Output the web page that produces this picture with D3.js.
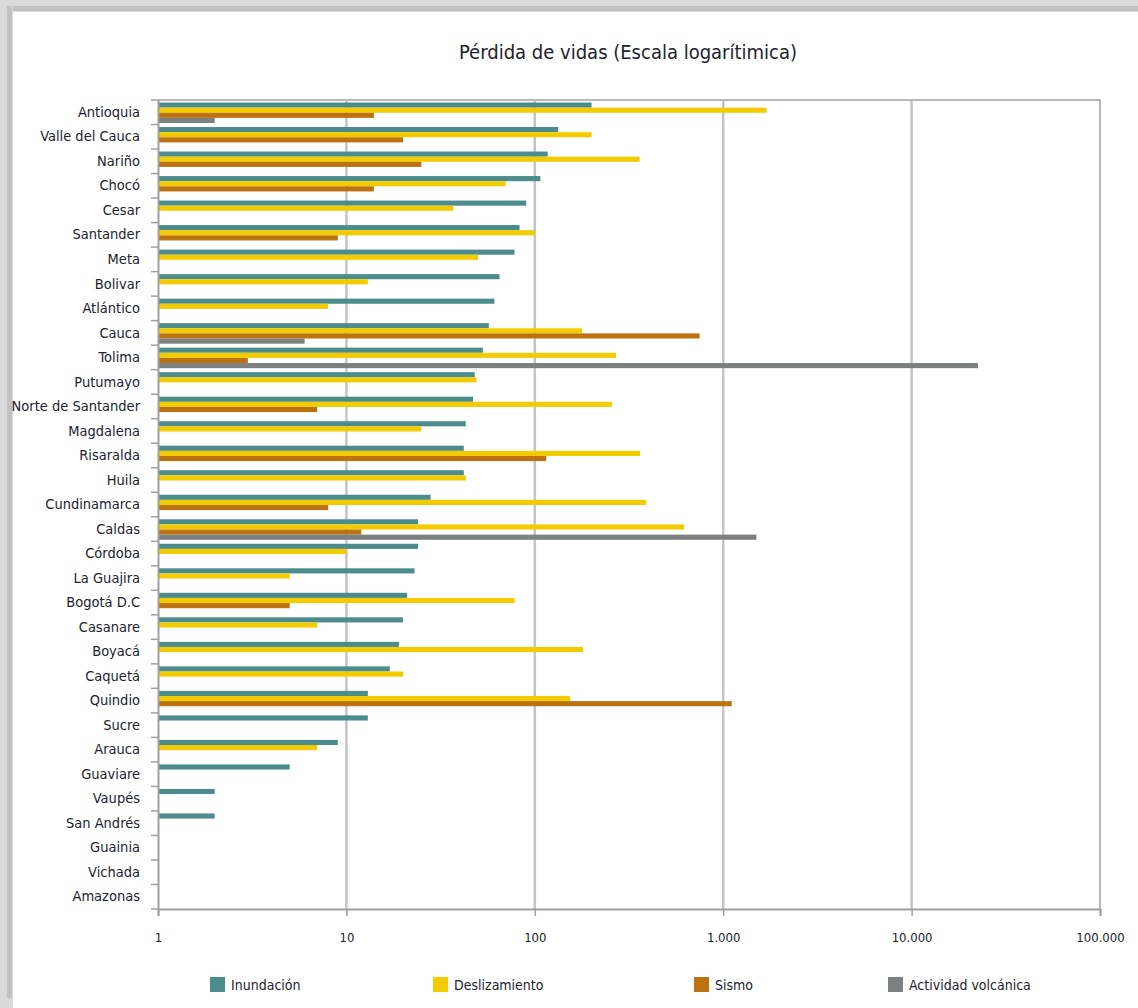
<!DOCTYPE html>
<html>
<head>
<meta charset="utf-8">
<script src="https://cdn.jsdelivr.net/npm/d3@7"></script>
<style>
  body { margin: 0; background: #fff; }
  svg text { font-family: "Liberation Sans Narrow", "DejaVu Sans Condensed", sans-serif; fill: #22222c; }
</style>
</head>
<body>
<svg id="chart" width="1138" height="1008"></svg>
<script>
// departamentos, de arriba a abajo
var categories = ["Antioquia", "Valle del Cauca", "Nariño", "Chocó", "Cesar", "Santander", "Meta",
  "Bolivar", "Atlántico", "Cauca", "Tolima", "Putumayo", "Norte de Santander", "Magdalena",
  "Risaralda", "Huila", "Cundinamarca", "Caldas", "Córdoba", "La Guajira", "Bogotá D.C",
  "Casanare", "Boyacá", "Caquetá", "Quindio", "Sucre", "Arauca", "Guaviare", "Vaupés",
  "San Andrés", "Guainia", "Vichada", "Amazonas"];

var inundacion    = [200, 133, 117, 107, 90, 83, 78, 65, 61, 57, 53, 48, 47, 43, 42, 42, 28, 24, 24, 23, 21, 20, 19, 17, 13, 13, 9, 5, 2, 2, 0, 0, 0];
var deslizamiento = [1700, 200, 360, 70, 37, 100, 50, 13, 8, 178, 270, 49, 257, 25, 362, 43, 390, 620, 10, 5, 78, 7, 180, 20, 154, 0, 7, 0, 0, 0, 0, 0, 0];
var sismo         = [14, 20, 25, 14, 0, 9, 0, 0, 0, 750, 3, 0, 7, 0, 115, 0, 8, 12, 0, 0, 5, 0, 0, 0, 1110, 0, 0, 0, 0, 0, 0, 0, 0];
var volcanica     = [2, 0, 0, 0, 0, 0, 0, 0, 0, 6, 22500, 0, 0, 0, 0, 0, 0, 1500, 0, 0, 0, 0, 0, 0, 0, 0, 0, 0, 0, 0, 0, 0, 0];

var seriesNames = ["Inundación", "Deslizamiento", "Sismo", "Actividad volcánica"];
var seriesColors = ["#4d8c8c", "#f2cc00", "#bd7211", "#7d8080"];
var xTicks = [1, 10, 100, 1000, 10000, 100000];

var seriesValues = [inundacion, deslizamiento, sismo, volcanica];

var svg = d3.select("#chart");

// marco con sombra
svg.append("rect").attr("x", 0).attr("y", 0).attr("width", 1138).attr("height", 12).attr("fill", "#dadada");
svg.append("rect").attr("x", 0).attr("y", 6).attr("width", 1138).attr("height", 5).attr("fill", "#c2c2c2");
svg.append("rect").attr("x", 0).attr("y", 0).attr("width", 13).attr("height", 1008).attr("fill", "#dadada");
svg.append("rect").attr("x", 7).attr("y", 6).attr("width", 5).attr("height", 992).attr("fill", "#c2c2c2");

var pLeft = 158, pRight = 1100, pTop = 100, pBottom = 909;

var x = d3.scaleLog().domain([1, 100000]).range([pLeft, pRight]);
var y0 = d3.scaleBand().domain(categories).range([pTop, pBottom]);
var y1 = d3.scaleBand().domain(seriesNames).range([2.5, y0.bandwidth() - 1.5]);

svg.append("text")
  .attr("x", 628).attr("y", 59)
  .attr("text-anchor", "middle")
  .style("font-size", "20px")
  .text("Pérdida de vidas (Escala logarítimica)");

// rejilla
svg.append("g").selectAll("line")
  .data(xTicks.slice(1, -1))
  .join("line")
  .attr("x1", d => x(d)).attr("x2", d => x(d))
  .attr("y1", pTop).attr("y2", pBottom)
  .attr("stroke", "#c4c4c4").attr("stroke-width", 2.5);

// marco del área
svg.append("path")
  .attr("d", "M" + pLeft + "," + pTop + "H" + pRight + "V" + pBottom)
  .attr("fill", "none").attr("stroke", "#b8b8b8").attr("stroke-width", 2);

// barras
var groups = svg.append("g").selectAll("g")
  .data(categories)
  .join("g")
  .attr("transform", d => "translate(0," + y0(d) + ")");

groups.selectAll("rect")
  .data((d, i) => seriesNames.map((s, j) => ({ s: s, v: seriesValues[j][i], c: seriesColors[j] })).filter(e => e.v > 0))
  .join("rect")
  .attr("x", x(1))
  .attr("y", d => y1(d.s))
  .attr("width", d => x(d.v) - x(1))
  .attr("height", y1.bandwidth())
  .attr("fill", d => d.c);

// eje y
var yAxis = svg.append("g")
  .attr("transform", "translate(" + pLeft + ",0)")
  .call(d3.axisLeft(y0).tickSize(0).tickPadding(18));
yAxis.select(".domain").attr("stroke", "#a0a0a0").attr("stroke-width", 2);
yAxis.selectAll("text").style("font-size", "14.5px").attr("fill", "#22222c");

svg.append("g").selectAll("line")
  .data(categories.concat([null]))
  .join("line")
  .attr("x1", pLeft - 7).attr("x2", pLeft)
  .attr("y1", (d, i) => pTop + i * y0.step())
  .attr("y2", (d, i) => pTop + i * y0.step())
  .attr("stroke", "#a0a0a0").attr("stroke-width", 1.5);

// eje x
var fmt = d3.formatLocale({ decimal: ",", thousands: ".", grouping: [3], currency: ["", ""] }).format(",d");
var xAxis = svg.append("g")
  .attr("transform", "translate(0," + pBottom + ")")
  .call(d3.axisBottom(x).tickValues(xTicks).tickFormat(fmt).tickSize(7).tickPadding(17));
xAxis.select(".domain").attr("stroke", "#a0a0a0").attr("stroke-width", 2);
xAxis.selectAll(".tick line").attr("stroke", "#a0a0a0").attr("stroke-width", 1.5);
xAxis.selectAll("text").style("font-size", "13px").attr("fill", "#22222c");

// leyenda
var legendX = [210, 433, 694, 888];
var legend = svg.append("g").selectAll("g")
  .data(seriesNames)
  .join("g")
  .attr("transform", (d, i) => "translate(" + legendX[i] + ",977)");
legend.append("rect").attr("width", 15).attr("height", 15).attr("fill", (d, i) => seriesColors[i]);
legend.append("text").attr("x", 21).attr("y", 13).style("font-size", "14px").text(d => d);
</script>
</body>
</html>
